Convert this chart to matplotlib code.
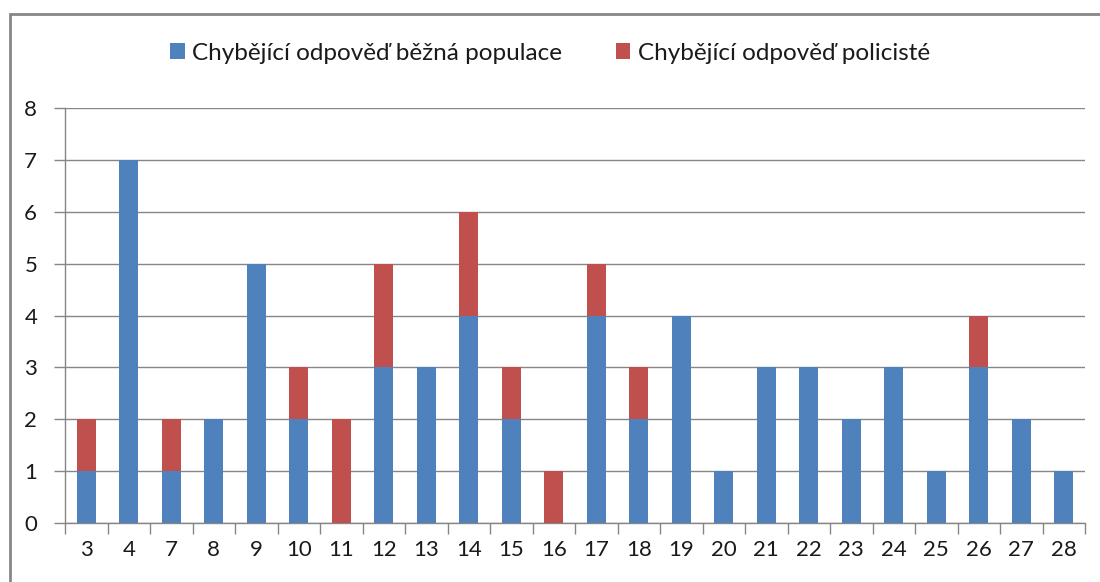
import matplotlib.pyplot as plt
from matplotlib.patches import Rectangle
import numpy as np

plt.rcParams['font.family'] = ['Lato', 'DejaVu Sans']

categories = ['3', '4', '7', '8', '9', '10', '11', '12', '13', '14', '15', '16',
              '17', '18', '19', '20', '21', '22', '23', '24', '25', '26', '27', '28']
bezna = [1, 7, 1, 2, 5, 2, 0, 3, 3, 4, 2, 0, 4, 2, 4, 1, 3, 3, 2, 3, 1, 3, 2, 1]
policiste = [1, 0, 1, 0, 0, 1, 2, 2, 0, 2, 1, 1, 1, 1, 0, 0, 0, 0, 0, 0, 0, 1, 0, 0]

blue = '#4f81bd'
red = '#c0504d'
grid_col = '#868686'

fig = plt.figure(figsize=(11, 5.82), dpi=100)
ax = fig.add_axes([65 / 1100, 1 - 523 / 582, 1020 / 1100, 415 / 582])

x = np.arange(len(categories))
ax.bar(x, bezna, width=0.45, color=blue, label='Chybějící odpověď běžná populace', zorder=3)
ax.bar(x, policiste, width=0.45, bottom=bezna, color=red, label='Chybějící odpověď policisté', zorder=3)

ax.set_xlim(-0.5, len(categories) - 0.5)
ax.set_ylim(0, 8)
ax.set_yticks(range(0, 9))
ax.yaxis.grid(True, color=grid_col, linewidth=1, zorder=0)

ax.set_xticks(x)
ax.set_xticklabels(categories)
ax.tick_params(axis='x', length=0, labelsize=16, pad=12, labelcolor='#1a1a1a')
ax.set_xticks(np.arange(-0.5, len(categories)), minor=True)
ax.tick_params(axis='x', which='minor', length=8, color=grid_col, width=1, direction='out')
ax.tick_params(axis='y', length=8, color=grid_col, width=1, labelsize=16, pad=12, labelcolor='#1a1a1a')

for s in ['top', 'right']:
    ax.spines[s].set_visible(False)
for s in ['left', 'bottom']:
    ax.spines[s].set_color(grid_col)
    ax.spines[s].set_linewidth(1)

leg = ax.legend(loc='center', bbox_to_anchor=(0.5, 1 - 53 / 582), bbox_transform=fig.transFigure,
                ncol=2, frameon=False, fontsize=17.5, handlelength=0.6, handleheight=0.6,
                handletextpad=0.3, columnspacing=2.2)
for t in leg.get_texts():
    t.set_color('#1a1a1a')

fig.patches.append(Rectangle((10 / 1100, -0.1), 1.2, 1 - 14 / 582 + 0.1, transform=fig.transFigure,
                             fill=False, edgecolor=grid_col, linewidth=2))

fig.savefig('out.png', dpi=100, facecolor='white')
